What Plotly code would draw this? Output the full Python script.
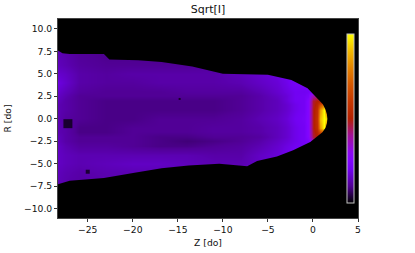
import plotly.graph_objects as go

title = "Sqrt[I]"
z_axis = [-28.3, -27.5, -26, -23, -20, -17, -14, -11, -8, -6, -4, -3, -2, -1, -0.5, 0, 0.4, 0.8, 1.2, 1.6, 2]
r_axis = [8, 6, 5, 4, 3, 2.5, 2, 1.5, 1, 0, -1, -1.5, -2, -2.5, -3, -4, -5, -6, -8]
intensity = [
 [.13,.12,.10,.09,.09,.09,.09,.10,.12,.14,.16,.18,.20,.21,.22,.22,.22,.22,.22,.22,.22],
 [.14,.13,.11,.10,.10,.10,.10,.11,.13,.15,.17,.19,.21,.22,.23,.23,.23,.23,.23,.23,.23],
 [.16,.15,.12,.11,.12,.12,.12,.12,.14,.16,.18,.20,.22,.23,.23,.24,.24,.24,.24,.24,.24],
 [.18,.16,.12,.11,.11,.12,.12,.12,.13,.15,.17,.19,.22,.22,.23,.24,.24,.24,.24,.24,.24],
 [.16,.14,.11,.10,.10,.10,.11,.11,.11,.13,.16,.18,.20,.20,.21,.24,.24,.24,.24,.24,.24],
 [.15,.13,.10,.10,.10,.10,.10,.10,.10,.12,.15,.17,.20,.21,.23,.38,.42,.30,.24,.24,.24],
 [.14,.12,.10,.09,.09,.09,.09,.09,.10,.12,.14,.17,.20,.21,.26,.47,.50,.50,.30,.24,.24],
 [.13,.12,.10,.09,.09,.09,.09,.09,.10,.12,.14,.16,.19,.21,.26,.47,.53,.68,.80,.38,.24],
 [.13,.12,.10,.09,.09,.09,.09,.09,.10,.12,.14,.16,.19,.21,.26,.48,.56,.84,1.0,.65,.30],
 [.13,.11,.10,.09,.09,.10,.10,.10,.11,.13,.15,.17,.20,.22,.26,.48,.58,.90,1.0,.95,.35],
 [.13,.12,.09,.09,.10,.10,.10,.11,.11,.12,.14,.16,.19,.21,.26,.48,.56,.84,1.0,.65,.30],
 [.13,.12,.09,.09,.10,.10,.10,.11,.11,.12,.14,.16,.19,.21,.26,.47,.53,.66,.76,.38,.24],
 [.14,.12,.10,.10,.10,.09,.09,.10,.10,.11,.14,.16,.19,.21,.26,.46,.50,.48,.30,.24,.24],
 [.14,.12,.10,.10,.10,.09,.08,.09,.10,.12,.15,.17,.19,.21,.23,.35,.38,.28,.24,.24,.24],
 [.15,.13,.11,.11,.10,.09,.09,.10,.11,.13,.16,.18,.20,.20,.21,.24,.24,.24,.24,.24,.24],
 [.15,.14,.13,.13,.13,.13,.13,.12,.12,.15,.17,.19,.21,.22,.23,.24,.24,.24,.24,.24,.24],
 [.15,.14,.13,.14,.15,.15,.14,.13,.13,.15,.18,.20,.22,.23,.23,.23,.23,.23,.23,.23,.23],
 [.14,.13,.12,.13,.13,.13,.13,.13,.13,.15,.17,.19,.21,.22,.22,.22,.22,.22,.22,.22,.22],
 [.13,.12,.11,.12,.12,.12,.12,.12,.12,.14,.16,.18,.20,.21,.21,.21,.21,.21,.21,.21,.21],
]
upper_z = [-28.3, -27.8, -27, -23.2, -22.6, -19.4, -16.8, -13.4, -10, -5, -2.4, -0.6, 0.6, 1.1, 1.4, 1.55, 1.6]
upper_r = [7.6, 7.3, 7.2, 7.2, 6.6, 6.5, 6.3, 5.8, 5.0, 4.9, 4.3, 3.4, 2.2, 1.6, 1.0, 0.5, 0]
lower_z = [1.55, 1.4, 1.05, -0.3, -2.2, -4.0, -6.2, -7.3, -10.4, -13.8, -16.8, -19.8, -23.2, -27, -28.3]
lower_r = [-0.5, -1.0, -1.5, -2.6, -3.5, -4.2, -4.7, -5.3, -5.0, -5.2, -5.5, -6.0, -6.6, -6.9, -7.3]
hole_z = [-27.2, -25, -14.8]
hole_r = [-0.55, -5.9, 2.2]
hole_size = [9, 4, 2]
colors = [[0, "#000000"], [.1, "#510096"], [.2, "#7202f2"], [.25, "#8004ff"],
          [.3, "#8c07f2"], [.4, "#a11096"], [.5, "#b42000"], [.6, "#c63700"], [.7, "#d55700"],
          [.8, "#e48300"], [.9, "#f2ba00"], [1, "#ffff00"]]

fig = go.Figure()
fig.add_trace(go.Heatmap(x=z_axis, y=r_axis, z=intensity, zmin=0, zmax=1, zsmooth="best",
    colorscale=colors, hoverinfo="skip",
    colorbar=dict(x=0.962, xanchor="left", xref="paper", thickness=7, thicknessmode="pixels",
                  len=0.849, lenmode="fraction", y=0.5, yanchor="middle", xpad=0, ypad=0,
                  showticklabels=False, ticks="", outlinecolor="#c4c4c4", outlinewidth=1,
                  borderwidth=0)))
fig.add_trace(go.Scatter(
    x=[-28.3] + upper_z + lower_z + [-28.3, 5, 5, -28.3],
    y=[11.1] + upper_r + lower_r + [-11.05, -11.05, 11.1, 11.1],
    mode="lines", fill="toself", fillcolor="black", line=dict(width=0, color="black"), hoverinfo="skip"))
fig.add_trace(go.Scatter(x=hole_z, y=hole_r, mode="markers", hoverinfo="skip",
    marker=dict(symbol="square", color="black", size=hole_size, line=dict(width=0))))

axis_style = dict(showgrid=False, zeroline=False, ticks="outside", ticklen=3, tickwidth=1,
                  tickcolor="#333", showline=True, linecolor="#444", linewidth=1, mirror=True,
                  tickfont=dict(family="DejaVu Sans", size=9.2, color="#111"))
fig.update_layout(
    width=415, height=253, margin=dict(l=58, r=56.5, t=19, b=35, autoexpand=False),
    paper_bgcolor="white", plot_bgcolor="black", showlegend=False,
    title=dict(text=title, x=0.5, xref="paper", xanchor="center", y=0.98, yref="container", yanchor="top",
               font=dict(family="DejaVu Sans", size=11, color="#111")),
    font=dict(family="DejaVu Sans", size=9.2, color="#111"),
)
fig.update_xaxes(range=[-28.3, 5], tickvals=[-25, -20, -15, -10, -5, 0, 5], ticktext=["−25", "−20", "−15", "−10", "−5", "0", "5"],
                 title=dict(text="Z [do]", font=dict(size=9.2), standoff=5), **axis_style)
fig.update_yaxes(range=[-11.05, 11.1], tickvals=[-10, -7.5, -5, -2.5, 0, 2.5, 5, 7.5, 10],
                 ticktext=["−10.0", "−7.5", "−5.0", "−2.5", "0.0", "2.5", "5.0", "7.5", "10.0"],
                 title=dict(text="R [do]", font=dict(size=9.2), standoff=10), **axis_style)
fig.write_html("out.html", post_script="document.body.style.margin='0';", config={"displayModeBar": False})
